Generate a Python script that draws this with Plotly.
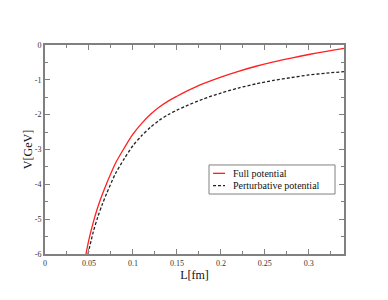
import plotly.graph_objects as go

full_L = [0.0466, 0.05, 0.055, 0.06, 0.065, 0.07, 0.08, 0.09, 0.10, 0.11, 0.12, 0.13, 0.14, 0.15, 0.16,
          0.18, 0.20, 0.22, 0.24, 0.26, 0.28, 0.30, 0.32, 0.34]
full_V = [-6.0, -5.58, -5.08, -4.66, -4.30, -3.98, -3.40, -2.96, -2.56, -2.25, -1.99, -1.78, -1.61, -1.47, -1.34,
          -1.11, -0.92, -0.755, -0.61, -0.485, -0.375, -0.273, -0.18, -0.095]

pert_L = [0.0489, 0.055, 0.06, 0.065, 0.07, 0.08, 0.09, 0.10, 0.11, 0.12, 0.13, 0.14, 0.15, 0.16,
          0.18, 0.20, 0.22, 0.24, 0.26, 0.28, 0.30, 0.32, 0.34]
pert_V = [-6.0, -5.355, -4.94, -4.585, -4.27, -3.70, -3.27, -2.89, -2.60, -2.36, -2.16, -2.00, -1.87, -1.755,
          -1.55, -1.38, -1.235, -1.115, -1.015, -0.935, -0.86, -0.808, -0.765]

x_ticks = [0, 0.05, 0.1, 0.15, 0.2, 0.25, 0.3]
x_labels = ["0", "0.05", "0.1", "0.15", "0.2", "0.25", "0.3"]
y_ticks = [0, -1, -2, -3, -4, -5, -6]
y_labels = ["0", "-1", "-2", "-3", "-4", "-5", "-6"]

series_names = ["Full potential", "Perturbative potential"]
series_colors = ["#ff2020", "#222222"]
series_dash = ["solid", "3px,2px"]

FONT = "Liberation Serif"
AX = "#808080"

fig = go.Figure()
fig.add_trace(go.Scatter(x=full_L, y=full_V, mode="lines", name=series_names[0], showlegend=False,
                         line=dict(color=series_colors[0], width=1.3, shape="spline", smoothing=0.8)))
fig.add_trace(go.Scatter(x=pert_L, y=pert_V, mode="lines", name=series_names[1], showlegend=False,
                         line=dict(color=series_colors[1], width=1.3, dash=series_dash[1],
                                   shape="spline", smoothing=0.8)))

axis_common = dict(showgrid=False, zeroline=False, showline=True, linecolor=AX, linewidth=2,
                   mirror="allticks", ticks="inside", ticklen=5, tickwidth=1, tickcolor=AX,
                   tickfont=dict(family=FONT, size=8, color="#333333"))

fig.update_xaxes(range=[0, 0.34], tickvals=x_ticks, ticktext=x_labels,
                 minor=dict(ticks="inside", ticklen=3, dtick=0.025, tick0=0, tickcolor=AX),
                 title=dict(text="L[fm]", font=dict(family=FONT, size=12, color="#111111"), standoff=0),
                 **axis_common)
fig.update_yaxes(range=[-6, 0], tickvals=y_ticks, ticktext=y_labels,
                 minor=dict(ticks="inside", ticklen=3, dtick=0.5, tick0=0, tickcolor=AX),
                 title=dict(text="V[GeV]", font=dict(family=FONT, size=12, color="#111111"), standoff=0),
                 **axis_common)

# manual legend box (paper coordinates)
box = dict(x0=0.5485, x1=0.970, y0=0.287, y1=0.426)
rows_y = [0.386, 0.327]
fig.add_shape(type="rect", xref="paper", yref="paper", **box,
              line=dict(color=AX, width=1), fillcolor="white", layer="above")
for i in range(2):
    fig.add_shape(type="line", xref="paper", yref="paper", x0=0.562, x1=0.602, y0=rows_y[i], y1=rows_y[i],
                  line=dict(color=series_colors[i], width=1.3, dash=series_dash[i]), layer="above")
    fig.add_annotation(xref="paper", yref="paper", x=0.622, y=rows_y[i], xanchor="left", yanchor="middle",
                       text=series_names[i], showarrow=False,
                       font=dict(family=FONT, size=10, color="#111111"))

fig.update_layout(width=380, height=292, margin=dict(l=37, r=44, t=37, b=46),
                  plot_bgcolor="white", paper_bgcolor="white", showlegend=False)

fig.write_html("out.html")
